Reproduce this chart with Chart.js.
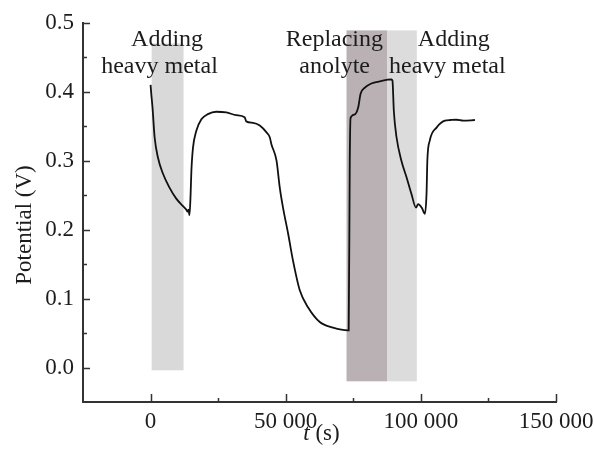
<!DOCTYPE html>
<html>
  <head>
    <style>
      * {
        margin: 0;
        padding: 0;
      }
      body {
        background: #ffffff;
        overflow: hidden;
      }
    </style>
  </head>
  <body>
    <canvas id="myChart" width="594" height="455"></canvas>
    <script src="https://cdn.jsdelivr.net/npm/chart.js/dist/chart.umd.min.js"></script>
    <script>
      // time (s) and potential (V)
      const times = [
        0, 300, 700, 1500, 2700, 4600, 7000, 9500, 12000, 13200, 13700, 14000,
        14400, 14800, 15100, 15700, 16900, 18800, 21200, 24300, 28000, 31700,
        34800, 35400, 37900, 40400, 42900, 44100, 44700, 46600, 47800, 49000,
        50900, 52700, 55200, 58300, 62600, 67500, 73000, 73300, 73700, 74000,
        75500, 76800, 77700, 79300, 81700, 84800, 89100, 89500, 90000, 91000,
        92800, 94700, 96500, 98200, 99000, 100300, 101500, 102100, 102400,
        103300, 105800, 108900, 111000, 113200, 115700, 120000,
      ];
      const potentials = [
        0.41, 0.395, 0.378, 0.334, 0.305, 0.281, 0.261, 0.245, 0.234, 0.229,
        0.226, 0.229, 0.221, 0.25, 0.285, 0.319, 0.343, 0.36, 0.3675, 0.371,
        0.37, 0.366, 0.363, 0.357, 0.355, 0.351, 0.341, 0.334, 0.324, 0.3,
        0.261, 0.232, 0.194, 0.155, 0.112, 0.087, 0.066, 0.058, 0.054, 0.054,
        0.3, 0.362, 0.367, 0.377, 0.397, 0.406, 0.412, 0.415, 0.418, 0.416,
        0.372, 0.334, 0.3, 0.276, 0.252, 0.232, 0.237, 0.232, 0.223, 0.252,
        0.3, 0.329, 0.348, 0.358, 0.359, 0.3594, 0.358, 0.359,
      ];

      // shaded periods: start, end (s), top, bottom (V)
      const bandStart = [400, 72500, 87500];
      const bandEnd = [12200, 87500, 98500];
      const bandTop = [0.47, 0.489, 0.489];
      const bandBottom = [-0.004, -0.02, -0.02];
      const bandColors = ["#d9d9d9", "#b9b1b4", "#dcdcdc"];

      // axis ticks
      const xTicks = [0, 50000, 100000, 150000];
      const xTickLabels = ["0", "50 000", "100 000", "150 000"];
      const xMinor = [25000, 75000, 125000];
      const yTicks = [0.0, 0.1, 0.2, 0.3, 0.4, 0.5];
      const yMinor = [0.05, 0.15, 0.25, 0.35, 0.45];

      // annotation text lines, anchored in data coords
      const noteText = ["Adding", "heavy metal", "Replacing", "anolyte", "Adding", "heavy metal"];
      const noteT = [6100, 3300, 68000, 68100, 112200, 109800];
      const noteV = [0.4667, 0.4275, 0.4667, 0.4275, 0.4667, 0.4275];

      const FONT = '"Liberation Serif", "Times New Roman", serif';
      const INK = "#1c1c1c";
      const AXIS = "#333333";

      const bandsPlugin = {
        id: "bands",
        beforeDatasetsDraw(chart) {
          const { ctx, scales } = chart;
          ctx.save();
          for (let i = 0; i < bandStart.length; i++) {
            const x1 = scales.x.getPixelForValue(bandStart[i]);
            const x2 = scales.x.getPixelForValue(bandEnd[i]);
            const y1 = scales.y.getPixelForValue(bandTop[i]);
            const y2 = scales.y.getPixelForValue(bandBottom[i]);
            ctx.fillStyle = bandColors[i];
            ctx.fillRect(x1, y1, x2 - x1, y2 - y1);
          }
          ctx.restore();
        },
      };

      const decorPlugin = {
        id: "decor",
        afterDraw(chart) {
          const { ctx, chartArea, scales } = chart;
          ctx.save();
          ctx.strokeStyle = AXIS;
          ctx.lineWidth = 1.5;
          ctx.beginPath();
          // inward ticks
          xTicks.forEach((v) => {
            const px = Math.round(scales.x.getPixelForValue(v)) + 0.5;
            ctx.moveTo(px, chartArea.bottom);
            ctx.lineTo(px, chartArea.bottom - 8);
          });
          xMinor.forEach((v) => {
            const px = Math.round(scales.x.getPixelForValue(v)) + 0.5;
            ctx.moveTo(px, chartArea.bottom);
            ctx.lineTo(px, chartArea.bottom - 4);
          });
          yTicks.forEach((v) => {
            const py = Math.round(scales.y.getPixelForValue(v)) + 0.5;
            ctx.moveTo(chartArea.left, py);
            ctx.lineTo(chartArea.left + 7, py);
          });
          yMinor.forEach((v) => {
            const py = Math.round(scales.y.getPixelForValue(v)) + 0.5;
            ctx.moveTo(chartArea.left, py);
            ctx.lineTo(chartArea.left + 4, py);
          });
          ctx.stroke();

          // annotations
          ctx.fillStyle = INK;
          ctx.font = "24px " + FONT;
          ctx.textAlign = "center";
          ctx.textBaseline = "alphabetic";
          for (let i = 0; i < noteText.length; i++) {
            ctx.fillText(
              noteText[i],
              scales.x.getPixelForValue(noteT[i]),
              scales.y.getPixelForValue(noteV[i])
            );
          }

          // x title: italic t + (s)
          ctx.textAlign = "left";
          ctx.font = "italic 23px " + FONT;
          const tW = ctx.measureText("t").width;
          ctx.font = "23px " + FONT;
          const sW = ctx.measureText(" (s)").width;
          const cx = (chartArea.left + chartArea.right) / 2 + 2;
          const startX = cx - (tW + sW) / 2;
          ctx.font = "italic 23px " + FONT;
          ctx.fillText("t", startX, 440);
          ctx.font = "23px " + FONT;
          ctx.fillText(" (s)", startX + tW, 440);

          // y title
          ctx.translate(31, 225);
          ctx.rotate(-Math.PI / 2);
          ctx.textAlign = "center";
          ctx.fillText("Potential (V)", 0, 0);
          ctx.restore();
        },
      };

      const data = {
        datasets: [
          {
            data: times.map((t, i) => ({ x: t, y: potentials[i] })),
            borderColor: "#111111",
            borderWidth: 1.8,
            pointRadius: 0,
            cubicInterpolationMode: "monotone",
            fill: false,
          },
        ],
      };

      // config
      const config = {
        type: "line",
        data,
        options: {
          responsive: false,
          animation: false,
          layout: { padding: { top: 22, right: 38, bottom: 0, left: 0 } },
          plugins: {
            legend: { display: false },
            tooltip: { enabled: false },
          },
          scales: {
            x: {
              type: "linear",
              min: -25000,
              max: 150000,
              afterBuildTicks: (s) => {
                s.ticks = xTicks.map((v) => ({ value: v }));
              },
              afterFit: (s) => {
                s.height = 53;
                // let the last label run off the edge, as in the original
                s.paddingRight = 0;
                s.paddingLeft = 0;
              },
              grid: { drawOnChartArea: false, drawTicks: false },
              border: { display: true, color: AXIS, width: 2 },
              ticks: {
                callback: (v, i) => xTickLabels[i],
                font: { family: FONT, size: 23 },
                color: INK,
                padding: 6,
                maxRotation: 0,
                autoSkip: false,
              },
            },
            y: {
              min: -0.05,
              max: 0.5,
              afterBuildTicks: (s) => {
                s.ticks = yTicks.map((v) => ({ value: v }));
              },
              afterFit: (s) => {
                s.width = 83;
              },
              grid: { drawOnChartArea: false, drawTicks: false },
              border: { display: true, color: AXIS, width: 2 },
              ticks: {
                callback: (v) => v.toFixed(1),
                font: { family: FONT, size: 23 },
                color: INK,
                padding: 9,
              },
            },
          },
        },
        plugins: [bandsPlugin, decorPlugin],
      };

      // render init block
      const myChart = new Chart(document.getElementById("myChart"), config);
    </script>
  </body>
</html>
